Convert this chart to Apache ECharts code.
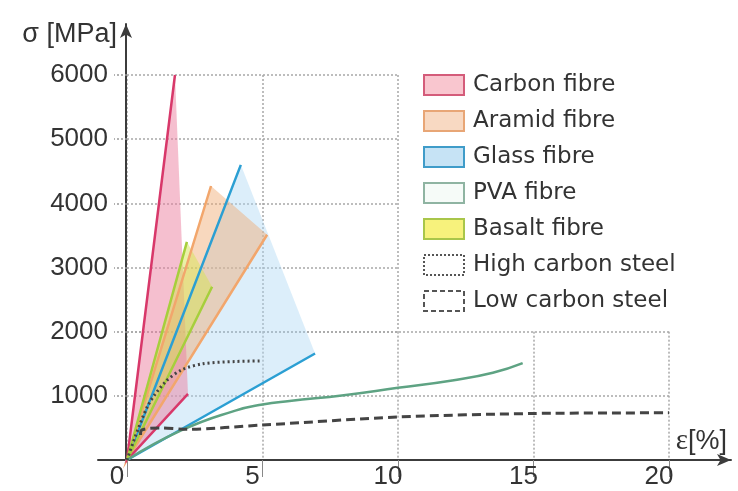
<!DOCTYPE html>
<html>
<head>
<meta charset="utf-8">
<script src="https://cdn.jsdelivr.net/npm/echarts@6/dist/echarts.min.js"></script>
<style>
  html, body { margin: 0; background: #fff; }
  #chart { width: 738px; height: 491px; }
</style>
</head>
<body>
<div id="chart"></div>
<script>
// strain [%], stress [MPa]
// fibre bands: [upper end, origin, lower end]
const carbonFibre = [[1.77, 6000], [0, 0], [2.25, 1030]]
const aramidFibre = [[3.1, 4270], [0, 0], [5.17, 3510]]
const glassFibre = [[4.2, 4600], [0, 0], [6.94, 1660]]
const basaltFibre = [[2.21, 3400], [0, 0], [3.14, 2700]]

const pvaFibre = [[0, 0], [2, 460], [4, 770], [5, 865], [6, 920], [8, 1010], [10, 1125], [12, 1240], [13.5, 1360], [14.6, 1510]]
const highCarbonSteel = [[0, 0], [0.75, 830], [1.4, 1210], [2, 1400], [2.8, 1500], [4, 1535], [5, 1545]]
const lowCarbonSteel = [[0.5, 390], [0.55, 470], [1.2, 500], [2.2, 480], [5, 545], [10, 670], [15, 725], [20, 735]]

const legendNames = ['Carbon fibre', 'Aramid fibre', 'Glass fibre', 'PVA fibre', 'Basalt fibre', 'High carbon steel', 'Low carbon steel']

const chart = echarts.init(document.getElementById('chart'))

// filled band between two straight lines from the origin
function fibreBand(name, pts, lineColor, fillColor) {
  return {
    type: 'custom',
    name: name,
    xAxisIndex: 0,
    yAxisIndex: 0,
    data: pts,
    itemStyle: { color: fillColor },
    silent: true,
    renderItem: function (params, api) {
      if (params.dataIndex !== 0) return null
      const p = pts.map(function (d) { return api.coord(d) })
      return {
        type: 'group',
        children: [
          { type: 'polygon', z2: 0, shape: { points: p }, style: { fill: fillColor } },
          { type: 'polyline', z2: 10, shape: { points: p }, style: { stroke: lineColor, lineWidth: 2.5, fill: null } }
        ]
      }
    }
  }
}

const gridLine = { show: true, lineStyle: { color: '#a8a8a8', width: 1.5, type: [2, 2] } }
const hidden = { axisLine: { show: false }, axisTick: { show: false }, axisLabel: { show: false } }

const options = {
  animation: false,
  grid: [
    { left: 127, right: 69, top: 75, bottom: 31 },          // data
    { left: 127, width: 271, top: 75, height: 256.67 },      // grid lines, upper left part
    { left: 127, right: 69, top: 331.67, bottom: 31 },       // grid lines, lower part
    { left: 98, right: 7, top: 24, bottom: 31 }              // axis lines with arrows
  ],
  xAxis: [
    {
      gridIndex: 0, type: 'value', min: 0, max: 20, interval: 5,
      axisLine: { show: false },
      axisTick: { show: true, inside: false, length: 17, lineStyle: { color: '#888', width: 1 } },
      axisLabel: { fontFamily: 'Liberation Sans', fontSize: 26, color: '#333', margin: 4, padding: [0, 20, 0, 0] },
      splitLine: { show: false }
    },
    Object.assign({ gridIndex: 1, type: 'value', min: 0, max: 10, interval: 5, splitLine: gridLine }, hidden),
    Object.assign({ gridIndex: 2, type: 'value', min: 0, max: 20, interval: 5, splitLine: gridLine }, hidden),
    {
      gridIndex: 3, type: 'value', min: 0, max: 1,
      axisLine: { show: true, onZero: false, symbol: ['none', 'arrow'], symbolSize: [9, 14], lineStyle: { color: '#3c3c3c', width: 2 } },
      axisTick: { show: false }, axisLabel: { show: false }, splitLine: { show: false },
      name: '{e|ε}[%]', nameLocation: 'end', nameGap: -4,
      nameTextStyle: {
        align: 'right', verticalAlign: 'bottom', padding: [0, 0, 4, 0],
        fontFamily: 'Liberation Sans', fontSize: 27, color: '#333',
        rich: { e: { fontFamily: 'Liberation Serif', fontSize: 29, color: '#333' } }
      }
    }
  ],
  yAxis: [
    {
      gridIndex: 0, type: 'value', min: 0, max: 6000, interval: 1000,
      axisLine: { show: false },
      axisTick: { show: true, length: 13, lineStyle: { color: '#999', width: 1.5, type: [2, 2] } },
      axisLabel: {
        fontFamily: 'Liberation Sans', fontSize: 26, color: '#333', margin: 19,
        showMinLabel: false,
        formatter: function (v) { return String(v) }
      },
      splitLine: { show: false }
    },
    Object.assign({ gridIndex: 1, type: 'value', min: 2000, max: 6000, interval: 1000, splitLine: gridLine }, hidden),
    Object.assign({ gridIndex: 2, type: 'value', min: 0, max: 2000, interval: 1000, splitLine: gridLine }, hidden),
    {
      gridIndex: 3, type: 'value', min: 0, max: 1, offset: -28,
      axisLine: { show: true, onZero: false, symbol: ['none', 'arrow'], symbolSize: [9, 14], lineStyle: { color: '#3c3c3c', width: 2 } },
      axisTick: { show: false }, axisLabel: { show: false }, splitLine: { show: false },
      name: 'σ [MPa]', nameLocation: 'end', nameGap: -11,
      nameTextStyle: { align: 'right', verticalAlign: 'middle', padding: [0, 9, 0, 0], fontFamily: 'Liberation Sans', fontSize: 27, color: '#333' }
    }
  ],
  legend: {
    orient: 'vertical', left: 423, top: 73, padding: 0,
    itemWidth: 40, itemHeight: 20, itemGap: 12, icon: 'rect',
    selectedMode: false,
    textStyle: { fontFamily: 'DejaVu Sans', fontSize: 23, lineHeight: 24, color: '#333', padding: [0, 0, 0, 4] },
    data: [
      { name: legendNames[0], itemStyle: { color: '#f9c6cf', borderColor: '#d45c7a', borderWidth: 2 } },
      { name: legendNames[1], itemStyle: { color: '#f8d9c2', borderColor: '#e8a676', borderWidth: 2 } },
      { name: legendNames[2], itemStyle: { color: '#c6e3f5', borderColor: '#3f9cc9', borderWidth: 2 } },
      { name: legendNames[3], itemStyle: { color: '#f6fbf8', borderColor: '#8fb4a2', borderWidth: 2 } },
      { name: legendNames[4], itemStyle: { color: '#f7f27c', borderColor: '#a9c64a', borderWidth: 2 } },
      { name: legendNames[5], itemStyle: { color: '#fff', borderColor: '#555', borderWidth: 2, borderType: 'dotted' } },
      { name: legendNames[6], itemStyle: { color: '#fff', borderColor: '#555', borderWidth: 2, borderType: [5, 3] } }
    ]
  },
  series: [
    fibreBand(legendNames[2], glassFibre, '#2b9fd3', 'rgba(172,214,243,0.42)'),
    fibreBand(legendNames[1], aramidFibre, '#f2a66c', 'rgba(240,168,110,0.45)'),
    fibreBand(legendNames[0], carbonFibre, '#d8386a', 'rgba(236,128,160,0.5)'),
    fibreBand(legendNames[4], basaltFibre, '#a6cf3c', 'rgba(214,228,84,0.5)'),
    {
      type: 'line', name: legendNames[3], xAxisIndex: 0, yAxisIndex: 0,
      data: pvaFibre, smooth: 0.5, symbol: 'none', silent: true,
      lineStyle: { color: '#5ea383', width: 2.5 }
    },
    {
      type: 'line', name: legendNames[5], xAxisIndex: 0, yAxisIndex: 0,
      data: highCarbonSteel, smooth: 0.3, symbol: 'none', silent: true,
      lineStyle: { color: '#444', width: 3, type: [2, 3] }
    },
    {
      type: 'line', name: legendNames[6], xAxisIndex: 0, yAxisIndex: 0,
      data: lowCarbonSteel, smooth: 0.3, symbol: 'none', silent: true,
      lineStyle: { color: '#444', width: 3, type: [9, 5] }
    }
  ]
}

chart.setOption(options)
window.addEventListener('resize', chart.resize)
</script>
</body>
</html>
